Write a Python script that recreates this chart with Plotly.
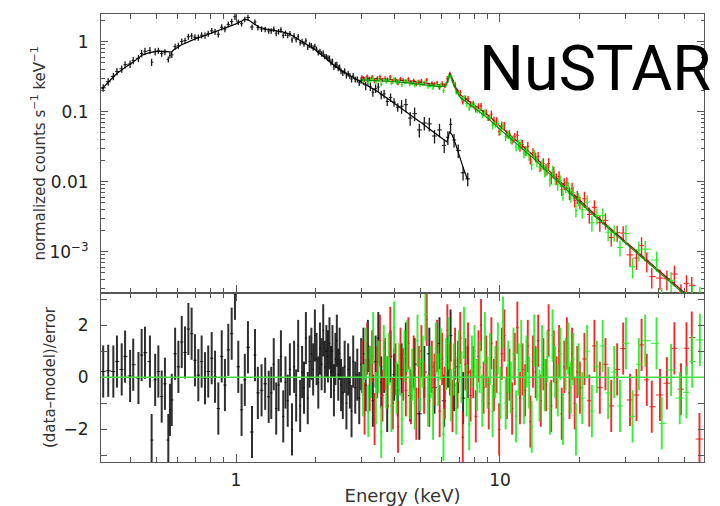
import numpy as np
import plotly.graph_objects as go

# ---------------- data ----------------
# black (soft X-ray) spectrum
blk_E = [0.314, 0.328, 0.343, 0.354, 0.369, 0.380, 0.397, 0.408, 0.427, 0.439,
         0.452, 0.472, 0.479, 0.494, 0.508, 0.523, 0.538, 0.554, 0.562, 0.571,
         0.588, 0.605, 0.623, 0.641, 0.660, 0.679, 0.699, 0.720, 0.741, 0.763,
         0.785, 0.809, 0.833, 0.857, 0.883, 0.908, 0.935, 0.963, 0.991, 1.02,
         1.05, 1.08, 1.11, 1.15, 1.18, 1.21, 1.25, 1.29, 1.33,
         1.36, 1.39, 1.42, 1.45, 1.48, 1.51, 1.54, 1.57, 1.60,
         1.63, 1.66, 1.69, 1.72, 1.75, 1.78, 1.81, 1.84, 1.87, 1.90,
         1.93, 1.96, 1.99, 2.02, 2.05, 2.08, 2.11, 2.14, 2.17, 2.20,
         2.23, 2.26, 2.29, 2.32, 2.35, 2.38, 2.41, 2.44, 2.47, 2.50,
         2.54, 2.58, 2.62, 2.66, 2.70, 2.74, 2.78, 2.83, 2.88, 2.93, 2.98,
         3.04, 3.10, 3.16, 3.23, 3.30, 3.38, 3.46, 3.55, 3.64, 3.74, 3.85, 3.97, 4.10,
         4.24, 4.40, 4.57, 4.75, 4.95, 5.17, 5.40, 5.65, 5.90, 6.15, 6.35, 6.50,
         6.70, 6.95, 7.25, 7.55]
blk_flux = [0.22, 0.268, 0.32, 0.375, 0.41, 0.47, 0.48, 0.54, 0.58, 0.68,
            0.73, 0.75, 0.51, 0.72, 0.745, 0.68, 0.71, 0.56, 0.64, 0.65,
            0.85, 0.88, 1.01, 1.04, 1.18, 1.21, 1.16, 1.15, 1.24, 1.23,
            1.31, 1.43, 1.39, 1.28, 1.61, 1.52, 1.77, 1.94, 2.28, 1.91,
            1.81, 2.09, 2.22, 1.62, 1.91, 1.59, 1.52, 1.50, 1.43,
            1.43, 1.51, 1.32, 1.39, 1.48, 1.23, 1.32, 1.23, 1.31,
            1.06, 1.21, 1.07, 1.18, 0.97, 1.01, 0.93, 1.03, 0.84, 0.90,
            0.88, 0.82, 0.86, 0.78, 0.70, 0.73, 0.67, 0.69, 0.62, 0.61,
            0.585, 0.575, 0.51, 0.52, 0.44, 0.465, 0.47, 0.42, 0.43, 0.38,
            0.36, 0.38, 0.33, 0.35, 0.325, 0.29, 0.325, 0.29, 0.29, 0.26, 0.28,
            0.28, 0.236, 0.27, 0.23, 0.19, 0.215, 0.225, 0.175, 0.18, 0.14, 0.16, 0.137, 0.116,
            0.12, 0.126, 0.081, 0.094, 0.055, 0.069, 0.067, 0.045, 0.055, 0.033, 0.043, 0.066,
            0.0395, 0.028, 0.0134, 0.011]
blk_relerr = [0.12, 0.12, 0.12, 0.12, 0.12, 0.12, 0.12, 0.12, 0.12, 0.12,
              0.12, 0.12, 0.12, 0.12, 0.10, 0.10, 0.10, 0.10, 0.10, 0.10,
              0.10, 0.10, 0.10, 0.10, 0.10, 0.10, 0.10, 0.10, 0.10, 0.10,
              0.10, 0.10, 0.10, 0.10, 0.10, 0.10, 0.10, 0.10, 0.10, 0.09,
              0.09, 0.09, 0.09, 0.09, 0.09, 0.09, 0.09, 0.09, 0.09,
              0.09, 0.09, 0.09, 0.09, 0.09, 0.09, 0.09, 0.09, 0.09,
              0.09, 0.09, 0.09, 0.09, 0.09, 0.09, 0.09, 0.09, 0.09, 0.09,
              0.09, 0.09, 0.09, 0.09, 0.09, 0.09, 0.09, 0.09, 0.09, 0.09,
              0.10, 0.10, 0.10, 0.10, 0.10, 0.10, 0.10, 0.10, 0.10, 0.10,
              0.10, 0.10, 0.10, 0.10, 0.10, 0.10, 0.10, 0.10, 0.10, 0.10, 0.10,
              0.14, 0.14, 0.14, 0.14, 0.14, 0.14, 0.14, 0.14, 0.14, 0.14, 0.14, 0.14, 0.14,
              0.22, 0.22, 0.22, 0.22, 0.22, 0.22, 0.22, 0.22, 0.22, 0.22, 0.22, 0.22,
              0.22, 0.22, 0.22, 0.22]
blk_resid = [0.22, 0.25, 0.22, 0.6, 0.3, 0.79, 0.05, 0.48, -0.03, 0.85,
             0.94, 0.6, -2.41, -0.1, 0.22, -0.74, -0.25, -2.41, -1.25, -0.87,
             0.9, 0.4, 1.35, 0.95, 1.85, 1.67, 0.65, 0.08, 0.6, -0.04,
             0.22, 0.73, 0.02, -1.2, 0.8, -0.3, 1.05, 1.67, 3.2, 0.4,
             -1.25, -0.1, 1.15, -2.1, 0.85, -0.6, -0.5, -0.25, -0.75,
             -0.6, 0.5, -1.2, -0.3, 0.8, -1.5, -0.2, -0.9, 0.3,
             -2.0, 0.4, -0.7, 1.2, -1.1, 0.2, -0.4, 1.5, -0.8, 0.6,
             0.9, 0.3, 1.6, 0.7, -0.2, 1.1, 0.5, 1.8, 0.4, 1.0,
             0.8, 1.3, 0.2, 1.0, -0.5, 0.7, 1.4, 0.1, 0.9, -0.3,
             -0.6, 0.4, -1.0, 0.3, -0.2, -1.3, 0.6, -0.4, 0.1, -0.8, 0.5,
             0.9, -0.3, 1.2, 0.2, -0.9, 0.6, 1.5, -0.2, 0.4, -1.1, 0.8, 0.1, -0.5,
             0.3, 1.1, -0.7, 0.5, -1.4, 0.2, 0.9, -0.4, 1.3, -0.9, 0.6, 1.6,
             -0.3, 0.4, -0.8, 0.2]
blk_model_E = [0.31, 0.33, 0.35, 0.38, 0.41, 0.44, 0.47, 0.50, 0.54, 0.57, 0.58,
               0.62, 0.65, 0.70, 0.75, 0.80, 0.85, 0.90, 0.95, 1.00, 1.05, 1.08,
               1.12, 1.15, 1.22, 1.30, 1.40, 1.50, 1.60, 1.70, 1.80, 1.90, 2.00,
               2.10, 2.20, 2.30, 2.40, 2.50, 2.70, 2.90, 3.10, 3.40, 3.80, 4.20,
               4.60, 5.00, 5.50, 6.00, 6.30, 6.45, 6.60, 6.80, 7.00, 7.25, 7.55]
blk_model_F = [0.21, 0.27, 0.34, 0.43, 0.52, 0.64, 0.70, 0.73, 0.73, 0.71, 0.76,
               0.90, 0.98, 1.10, 1.20, 1.32, 1.42, 1.54, 1.66, 1.80, 1.98, 2.10,
               2.02, 1.90, 1.62, 1.52, 1.45, 1.38, 1.28, 1.12, 0.97, 0.86, 0.76,
               0.66, 0.57, 0.49, 0.43, 0.39, 0.33, 0.285, 0.245, 0.20, 0.150, 0.115,
               0.090, 0.071, 0.054, 0.042, 0.037, 0.052, 0.046, 0.034, 0.024, 0.016, 0.0105]

# red (NuSTAR FPMA)
red_E = [3.00, 3.07, 3.14, 3.21, 3.28, 3.35, 3.43, 3.51, 3.59, 3.67,
         3.75, 3.84, 3.93, 4.02, 4.11, 4.20, 4.30, 4.40, 4.50, 4.60,
         4.71, 4.82, 4.93, 5.04, 5.16, 5.28, 5.40, 5.52, 5.65, 5.78,
         5.91, 6.04, 6.18, 6.32, 6.46, 6.61, 6.76, 6.91, 7.07, 7.23,
         7.40, 7.57, 7.74, 7.92, 8.10, 8.29, 8.48, 8.67, 8.87, 9.07,
         9.28, 9.49, 9.71, 9.93, 10.16, 10.39, 10.63, 10.87, 11.12, 11.38,
         11.64, 11.91, 12.18, 12.46, 12.75, 13.04, 13.34, 13.65, 13.96, 14.28,
         14.61, 14.95, 15.29, 15.64, 16.00, 16.37, 16.75, 17.14, 17.53, 17.93,
         18.34, 18.76, 19.19, 19.63, 20.08,
         20.9, 21.8, 22.8, 23.9, 25.1, 26.4, 27.8, 29.3, 31.1, 32.9,
         34.4, 36.0, 37.6, 40.4, 42.9, 45.8, 48.5, 50.9, 53.3, 57.0]
red_flux = [0.311, 0.286, 0.319, 0.296, 0.312, 0.274, 0.300, 0.316, 0.284, 0.299,
            0.288, 0.314, 0.273, 0.289, 0.256, 0.294, 0.280, 0.270, 0.293, 0.262,
            0.278, 0.249, 0.268, 0.274, 0.253, 0.283, 0.241, 0.255, 0.246, 0.259,
            0.223, 0.253, 0.236, 0.30, 0.346, 0.28, 0.248, 0.198, 0.189, 0.138,
            0.155, 0.153, 0.128, 0.130, 0.108, 0.120, 0.121, 0.097, 0.098, 0.082,
            0.092, 0.075, 0.074, 0.052, 0.064, 0.063, 0.048, 0.048, 0.039, 0.044,
            0.046, 0.032, 0.034, 0.028, 0.032, 0.021, 0.026, 0.0225, 0.023, 0.0167,
            0.0182, 0.0150, 0.0182, 0.0113, 0.0137, 0.0110, 0.0119, 0.0077, 0.0094, 0.0097,
            0.0069, 0.0080, 0.0054, 0.0061, 0.0051,
            0.0057, 0.0034, 0.0043, 0.0026, 0.0028, 0.0016, 0.00187, 0.00184, 0.00090, 0.00081,
            0.00122, 0.00074, 0.00044, 0.00042, 0.00041, 0.00048, 0.00026, 0.00035, 0.00033, 0.00009]
red_relerr = [0.07, 0.07, 0.07, 0.07, 0.07, 0.07, 0.07, 0.07, 0.07, 0.07,
              0.07, 0.07, 0.07, 0.07, 0.07, 0.07, 0.07, 0.07, 0.07, 0.07,
              0.07, 0.07, 0.07, 0.07, 0.07, 0.07, 0.07, 0.07, 0.07, 0.07,
              0.08, 0.08, 0.08, 0.08, 0.08, 0.08, 0.08, 0.08, 0.08, 0.08,
              0.10, 0.10, 0.10, 0.10, 0.10, 0.10, 0.10, 0.10, 0.10, 0.10,
              0.13, 0.13, 0.13, 0.13, 0.13, 0.13, 0.13, 0.13, 0.13, 0.13,
              0.16, 0.16, 0.16, 0.16, 0.16, 0.16, 0.16, 0.16, 0.16, 0.16,
              0.19, 0.19, 0.19, 0.19, 0.19, 0.19, 0.19, 0.19, 0.19, 0.19,
              0.21, 0.21, 0.21, 0.21, 0.21,
              0.26, 0.26, 0.26, 0.26, 0.26, 0.26, 0.26, 0.26, 0.32, 0.32,
              0.32, 0.32, 0.32, 0.32, 0.32, 0.32, 0.32, 0.32, 0.32, 0.32]
red_resid = [0.4, -1.2, 1.1, -0.3, 0.8, -1.6, 0.2, 1.4, -0.7, 0.5,
             -0.2, 1.7, -1.0, 0.3, -1.9, 0.9, 0.1, -0.5, 1.3, -0.8,
             0.6, -1.4, 0.2, 1.0, -0.4, 2.2, -0.9, 0.4, -0.1, 1.2,
             -1.3, 0.7, -0.6, 1.8, 0.3, -1.1, 0.9, -0.2, 1.5, -2.3,
             0.5, 1.1, -0.7, 0.2, -1.5, 0.8, 2.0, -0.4, 0.6, -1.0,
             1.3, -0.3, 0.4, -2.0, 0.9, 1.6, -0.6, 0.1, -1.2, 0.7,
             1.9, -0.8, 0.3, -0.5, 1.2, -1.7, 0.6, 0.2, 1.4, -0.9,
             0.5, -0.3, 1.8, -1.1, 0.8, -0.2, 1.0, -1.4, 0.4, 1.3,
             -0.6, 0.9, -1.0, 0.2, -0.4,
             0.7, -0.9, 1.2, -0.4, 0.5, -1.1, 0.3, 1.1, -0.87, -0.68,
             1.24, -0.1, -1.13, -0.68, -0.23, 1.11, -0.46, 1.11, 1.52, -2.37]
red_model_E = [3.0, 3.5, 4.0, 4.5, 5.0, 5.5, 5.9, 6.2, 6.35, 6.45, 6.55, 6.7, 6.9,
               7.1, 7.5, 8.0, 8.5, 9.0, 10.0, 11.0, 12.0, 13.5, 15.0, 17.0, 19.0,
               22.5, 26.0, 30.0, 35.0, 40.0, 45.0, 50.0, 57.0]
red_model_F = [0.305, 0.295, 0.285, 0.275, 0.262, 0.250, 0.242, 0.245, 0.28, 0.355, 0.32,
               0.25, 0.20, 0.172, 0.148, 0.126, 0.106, 0.090, 0.062, 0.045, 0.034,
               0.023, 0.0155, 0.0098, 0.0067, 0.0036, 0.0022, 0.00138, 0.00083,
               0.00053, 0.00037, 0.00026, 0.00017]

# green (NuSTAR FPMB)
grn_E = [3.03, 3.10, 3.17, 3.24, 3.31, 3.39, 3.47, 3.55, 3.63, 3.71,
         3.79, 3.88, 3.97, 4.06, 4.15, 4.25, 4.35, 4.45, 4.55, 4.65,
         4.76, 4.87, 4.98, 5.10, 5.22, 5.34, 5.46, 5.58, 5.71, 5.84,
         5.97, 6.11, 6.25, 6.39, 6.53, 6.68, 6.83, 6.99, 7.15, 7.31,
         7.48, 7.65, 7.83, 8.01, 8.19, 8.38, 8.57, 8.77, 8.97, 9.17,
         9.38, 9.60, 9.82, 10.04, 10.27, 10.51, 10.75, 11.00, 11.25, 11.51,
         11.77, 12.04, 12.32, 12.60, 12.89, 13.19, 13.49, 13.80, 14.12, 14.44,
         14.78, 15.12, 15.46, 15.82, 16.18, 16.56, 16.94, 17.33, 17.73, 18.14,
         18.55, 18.97, 19.41, 19.85,
         20.5, 21.4, 22.3, 23.3, 24.5, 25.7, 27.1, 28.5, 30.0, 31.8,
         33.6, 35.5, 39.2, 41.0, 44.5, 48.0, 50.9, 53.5, 57.2]
grn_flux = [0.277, 0.296, 0.264, 0.284, 0.301, 0.268, 0.284, 0.247, 0.289, 0.271,
            0.283, 0.256, 0.295, 0.262, 0.269, 0.242, 0.271, 0.275, 0.249, 0.256,
            0.239, 0.268, 0.243, 0.252, 0.271, 0.229, 0.239, 0.219, 0.245, 0.229,
            0.241, 0.200, 0.247, 0.313, 0.316, 0.249, 0.190, 0.180, 0.155, 0.161,
            0.131, 0.114, 0.128, 0.122, 0.106, 0.105, 0.090, 0.098, 0.082, 0.082,
            0.064, 0.068, 0.067, 0.053, 0.062, 0.044, 0.047, 0.040, 0.041, 0.031,
            0.034, 0.035, 0.0255, 0.0277, 0.0235, 0.0174, 0.0242, 0.0192, 0.0162, 0.0179,
            0.0142, 0.0152, 0.0105, 0.0142, 0.0110, 0.0092, 0.0104, 0.0066, 0.0085, 0.0084,
            0.0064, 0.0070, 0.0039, 0.0057,
            0.0040, 0.0051, 0.0026, 0.0033, 0.0033, 0.0019, 0.00188, 0.00115, 0.00182, 0.00061,
            0.00106, 0.00109, 0.00076, 0.00023, 0.00039, 0.00021, 0.00020, 0.00025, 0.00024]
grn_relerr = [0.07, 0.07, 0.07, 0.07, 0.07, 0.07, 0.07, 0.07, 0.07, 0.07,
              0.07, 0.07, 0.07, 0.07, 0.07, 0.07, 0.07, 0.07, 0.07, 0.07,
              0.07, 0.07, 0.07, 0.07, 0.07, 0.07, 0.07, 0.07, 0.07, 0.07,
              0.08, 0.08, 0.08, 0.08, 0.08, 0.08, 0.08, 0.08, 0.08, 0.08,
              0.10, 0.10, 0.10, 0.10, 0.10, 0.10, 0.10, 0.10, 0.10, 0.10,
              0.13, 0.13, 0.13, 0.13, 0.13, 0.13, 0.13, 0.13, 0.13, 0.13,
              0.16, 0.16, 0.16, 0.16, 0.16, 0.16, 0.16, 0.16, 0.16, 0.16,
              0.19, 0.19, 0.19, 0.19, 0.19, 0.19, 0.19, 0.19, 0.19, 0.19,
              0.21, 0.21, 0.21, 0.21,
              0.26, 0.26, 0.26, 0.26, 0.26, 0.26, 0.26, 0.26, 0.32, 0.32,
              0.32, 0.32, 0.32, 0.32, 0.32, 0.32, 0.32, 0.32, 0.32]
grn_resid = [-0.5, 0.9, -1.3, 0.2, 1.5, -0.8, 0.4, -2.1, 1.0, -0.2,
             0.7, -1.1, 1.9, -0.4, 0.3, -1.6, 0.8, 1.2, -0.6, 0.1,
             -1.0, 1.4, -0.3, 0.6, 2.4, -0.9, 0.2, -1.4, 1.1, -0.1,
             0.9, -2.2, 0.5, 1.3, -0.7, 0.3, -1.2, 0.8, 0.0, 1.7,
             -0.5, -1.8, 0.6, 1.0, -0.3, 0.4, -0.9, 1.5, -0.2, 0.7,
             -1.3, 0.2, 1.1, -0.6, 2.1, -1.0, 0.4, -0.4, 0.9, -1.5,
             0.3, 1.2, -0.8, 0.6, -0.2, -1.9, 1.4, 0.1, -0.7, 1.0,
             -0.3, 0.8, -1.2, 1.6, 0.2, -0.5, 0.9, -1.6, 0.5, 1.1,
             -0.4, 0.7, -2.0, 0.3,
             -0.8, 1.0, -1.3, 0.4, 1.2, -0.6, 0.2, -1.1, 1.3, -1.5,
             0.5, 1.4, 1.3, -1.77, 0.28, -0.8, -0.58, 0.6, 1.43]
grn_model_E = red_model_E
grn_model_F = [0.285, 0.277, 0.268, 0.258, 0.247, 0.236, 0.229, 0.232, 0.265, 0.345, 0.305,
               0.235, 0.186, 0.158, 0.135, 0.114, 0.096, 0.081, 0.056, 0.041, 0.031,
               0.021, 0.0143, 0.0091, 0.0063, 0.0034, 0.0021, 0.00131, 0.00079,
               0.00051, 0.00035, 0.00025, 0.00016]

# axis tick labels
x_tickvals = [1, 10]
x_ticktext = ["1", "10"]
x_minor = [0.4, 0.5, 0.6, 0.7, 0.8, 0.9, 2, 3, 4, 5, 6, 7, 8, 9, 20, 30, 40, 50]
y_top_tickvals = [1, 0.1, 0.01, 0.001]
y_top_ticktext = ["1", "0.1", "0.01", "10<sup>−3</sup>"]
y_top_minor = [m * d for d in (1e-4, 1e-3, 1e-2, 1e-1, 1) for m in range(2, 10)]
y_res_tickvals = [-2, 0, 2]
y_res_ticktext = ["−2", "0", "2"]
y_res_minor = [-3, -1, 1, 3]

for name, arrs in {"blk": (blk_E, blk_flux, blk_relerr, blk_resid),
                   "red": (red_E, red_flux, red_relerr, red_resid),
                   "grn": (grn_E, grn_flux, grn_relerr, grn_resid)}.items():
    assert len(set(len(a) for a in arrs)) == 1, (name, [len(a) for a in arrs])


def bin_half(E):
    E = np.asarray(E, float)
    mid = np.sqrt(E[1:] * E[:-1])
    lo = np.r_[E[0] ** 2 / mid[0], mid]
    hi = np.r_[mid, E[-1] ** 2 / mid[-1]]
    return hi - E, E - lo


XR = [np.log10(0.308), np.log10(59.3)]
AX = "#555555"
FONT = "DejaVu Sans"

fig = go.Figure()

series = [
    ("black", blk_E, blk_flux, blk_relerr, blk_resid, blk_model_E, blk_model_F,
     "#1a1a1a", "rgba(10,10,10,0.85)", "#000000", 1.3, 2.0),
    ("red", red_E, red_flux, red_relerr, red_resid, red_model_E, red_model_F,
     "#ff1a1a", "rgba(240,20,20,0.9)", "#a00000", 1.4, 1.9),
    ("green", grn_E, grn_flux, grn_relerr, grn_resid, grn_model_E, grn_model_F,
     "#22f022", "rgba(30,240,30,0.9)", "#009000", 1.4, 1.9),
]

for nm, E, F, R, Res, mE, mF, c_top, c_res, c_mod, w_top, w_res in series:
    hi, lo = bin_half(E)
    F = np.asarray(F)
    ferr = F * np.asarray(R)
    fig.add_trace(go.Scatter(
        x=E, y=F, mode="markers", xaxis="x2", yaxis="y2",
        marker=dict(size=1, color=c_top),
        error_y=dict(type="data", array=ferr, color=c_top, thickness=w_top, width=0),
        error_x=dict(type="data", array=hi, arrayminus=lo, color=c_top, thickness=1, width=0),
        showlegend=False, hoverinfo="skip"))
    fig.add_trace(go.Scatter(
        x=mE, y=mF, mode="lines", xaxis="x2", yaxis="y2",
        line=dict(color=c_mod, width=1.2), showlegend=False, hoverinfo="skip"))
    fig.add_trace(go.Scatter(
        x=E, y=Res, mode="markers", xaxis="x", yaxis="y",
        marker=dict(size=1, color=c_res),
        error_y=dict(type="constant", value=1, color=c_res, thickness=w_res, width=0),
        error_x=dict(type="data", array=hi, arrayminus=lo, color=c_res, thickness=1, width=0),
        showlegend=False, hoverinfo="skip"))

# zero line of the residual panel
fig.add_shape(type="line", xref="x domain", x0=0, x1=1, yref="y", y0=0, y1=0,
              line=dict(color="#44dd44", width=1.3), layer="above")

split = 0.3772
common_x = dict(type="log", range=XR, showline=True, linecolor=AX, linewidth=1,
                mirror="ticks", ticks="inside", ticklen=8, tickcolor=AX,
                tickvals=x_tickvals, ticktext=x_ticktext, showgrid=False, zeroline=False,
                automargin=False,
                minor=dict(tickvals=x_minor, ticks="inside", ticklen=5, tickcolor=AX,
                           showgrid=False),
                tickfont=dict(family=FONT, size=17, color="#222"))

fig.update_layout(
    width=720, height=506, paper_bgcolor="white", plot_bgcolor="white",
    margin=dict(l=101, r=16, t=14, b=44, autoexpand=False),
    font=dict(family=FONT, color="#222"),
    xaxis=dict(**common_x, domain=[0, 1], anchor="y", ticklabelstandoff=3,
               title=dict(text="Energy (keV)", font=dict(family=FONT, size=18, color="#333"),
                          standoff=2)),
    yaxis=dict(domain=[0, split], anchor="x", range=[-3.25, 3.23], automargin=False,
               showline=True, linecolor=AX, linewidth=1, mirror="ticks",
               ticks="inside", ticklen=6, tickcolor=AX,
               tickvals=y_res_tickvals, ticktext=y_res_ticktext,
               minor=dict(tickvals=y_res_minor, ticks="inside", ticklen=6, tickcolor=AX),
               showgrid=False, zeroline=False, ticklabelstandoff=8,
               tickfont=dict(family=FONT, size=17, color="#222"),
               title=dict(text="(data–model)/error", font=dict(family=FONT, size=15, color="#333"),
                          standoff=4)),
    xaxis2=dict(**common_x, domain=[0, 1], anchor="y2", matches="x", showticklabels=False),
    yaxis2=dict(domain=[split, 1], anchor="x2", type="log", automargin=False,
                range=[np.log10(2.57e-4), np.log10(2.49)],
                showline=True, linecolor=AX, linewidth=1, mirror="ticks",
                ticks="inside", ticklen=7, tickcolor=AX,
                tickvals=y_top_tickvals, ticktext=y_top_ticktext,
                minor=dict(tickvals=y_top_minor, ticks="inside", ticklen=3.5, tickcolor=AX),
                showgrid=False, zeroline=False, ticklabelstandoff=8,
                tickfont=dict(family=FONT, size=17, color="#222"),
                title=dict(text="normalized counts s<sup>−1</sup> keV<sup>−1</sup>",
                           font=dict(family=FONT, size=15, color="#333"), standoff=0)),
)

fig.add_annotation(text="NuSTAR", xref="paper", yref="paper", x=0.6234, y=0.964,
                   xanchor="left", yanchor="top", showarrow=False,
                   font=dict(family="Roboto", size=63, color="black"))

fig.write_html("out.html", config={"displayModeBar": False},
               post_script="document.body.style.margin='0';")
